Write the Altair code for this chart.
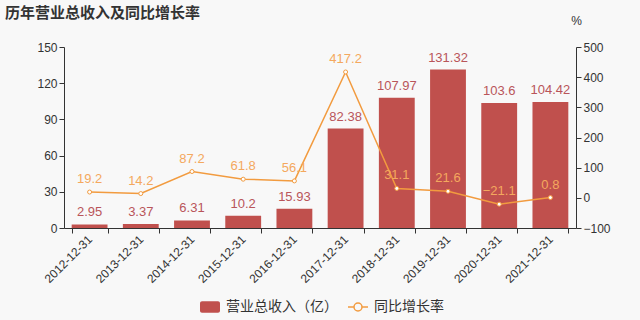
import altair as alt
import pandas as pd

dates = ["2012-12-31", "2013-12-31", "2014-12-31", "2015-12-31", "2016-12-31",
         "2017-12-31", "2018-12-31", "2019-12-31", "2020-12-31", "2021-12-31"]
revenue = [2.95, 3.37, 6.31, 10.2, 15.93, 82.38, 107.97, 131.32, 103.6, 104.42]
growth = [19.2, 14.2, 87.2, 61.8, 56.1, 417.2, 31.1, 21.6, -21.1, 0.8]

BAR_NAME = "营业总收入（亿）"
LINE_NAME = "同比增长率"
RED = "#c0504d"
ORANGE = "#f29b3f"
FONT = "Liberation Sans, Noto Sans CJK SC, sans-serif"

df = pd.DataFrame({"date": dates, "rev": revenue, "g": growth,
                   "bs": BAR_NAME, "ls": LINE_NAME})

base = alt.Chart(df)

x = alt.X("date:N", sort=dates, title=None,
          scale=alt.Scale(paddingInner=0.3, paddingOuter=0.15),
          axis=alt.Axis(labelAngle=315, labelAlign="right", labelBaseline="middle",
                        tickBand="extent", labelPadding=4, labelFontSize=12))

yl = alt.Y("rev:Q", title=None, scale=alt.Scale(domain=[0, 150], nice=False),
           axis=alt.Axis(values=[0, 30, 60, 90, 120, 150], orient="left"))
yr = alt.Y("g:Q", title="%", scale=alt.Scale(domain=[-100, 500], nice=False),
           axis=alt.Axis(values=[-100, 0, 100, 200, 300, 400, 500], orient="right",
                         titleAngle=0, titleX=0, titleY=-20, titleAlign="center",
                         titleFontWeight="normal", titleFontSize=12, titleColor="#333"))

bar_path = ("M-1.6,-1.15H1.6A0.4,0.4 0 0 1 2,-0.75V0.75A0.4,0.4 0 0 1 1.6,1.15"
            "H-1.6A0.4,0.4 0 0 1 -2,0.75V-0.75A0.4,0.4 0 0 1 -1.6,-1.15Z")
line_path = ("M-2,0H-0.8M0.8,0H2M0.8,0A0.8,0.8 0 1,1 -0.8,0A0.8,0.8 0 1,1 0.8,0")

bars = base.mark_bar().encode(
    x=x, y=yl,
    color=alt.Color("bs:N", scale=alt.Scale(domain=[BAR_NAME], range=[RED]),
                    legend=alt.Legend(title=None, orient="none", legendX=139, legendY=253,
                                      symbolType=bar_path, symbolSize=100,
                                      labelOffset=9, labelFontSize=14, labelColor="#333",
                                      labelFont=FONT)))
bar_text = base.mark_text(baseline="bottom", dy=-5, fontSize=13, color="#b9555a", font=FONT).encode(
    x=x, y=yl, text=alt.Text("rev:Q"))

line = base.mark_line(strokeWidth=1.5).encode(
    x=x, y=yr,
    stroke=alt.Stroke("ls:N", scale=alt.Scale(domain=[LINE_NAME], range=[ORANGE]),
                      legend=alt.Legend(title=None, orient="none", legendX=287, legendY=253,
                                        symbolType=line_path, symbolSize=100,
                                        symbolStrokeWidth=1.5, symbolFillColor="#f8f8f8",
                                        labelOffset=9, labelFontSize=14, labelColor="#333",
                                        labelFont=FONT)))
points = base.mark_point(filled=True, fill="white", stroke=ORANGE, strokeWidth=1, size=16, opacity=1).encode(
    x=x, y=yr)
line_text = base.mark_text(baseline="bottom", dy=-6, fontSize=13, color="#f4a85e", font=FONT).encode(
    x=x, y=yr, text=alt.Text("g:Q"))

chart = alt.layer(
    alt.layer(bars, bar_text),
    alt.layer(line, points, line_text),
).resolve_scale(y="independent", color="independent", stroke="independent").properties(
    width=512, height=181,
    autosize=alt.AutoSizeParams(type="none"),
    padding={"left": 64, "top": 47, "right": 64, "bottom": 92},
    background="#f8f8f8",
    title=alt.TitleParams("历年营业总收入及同比增长率", anchor="start", frame="group",
                          fontSize=15, fontWeight="bold", color="#333", dx=-59, offset=6, dy=13,
                          font="Noto Sans CJK SC"),
).configure_axis(
    grid=False, domainColor="#333", tickColor="#333", tickSize=5,
    labelColor="#333", labelFontSize=12, labelFont=FONT, titleFont=FONT,
).configure_view(stroke=None)

chart.save("out.html", embed_options={"renderer": "svg", "actions": False})
